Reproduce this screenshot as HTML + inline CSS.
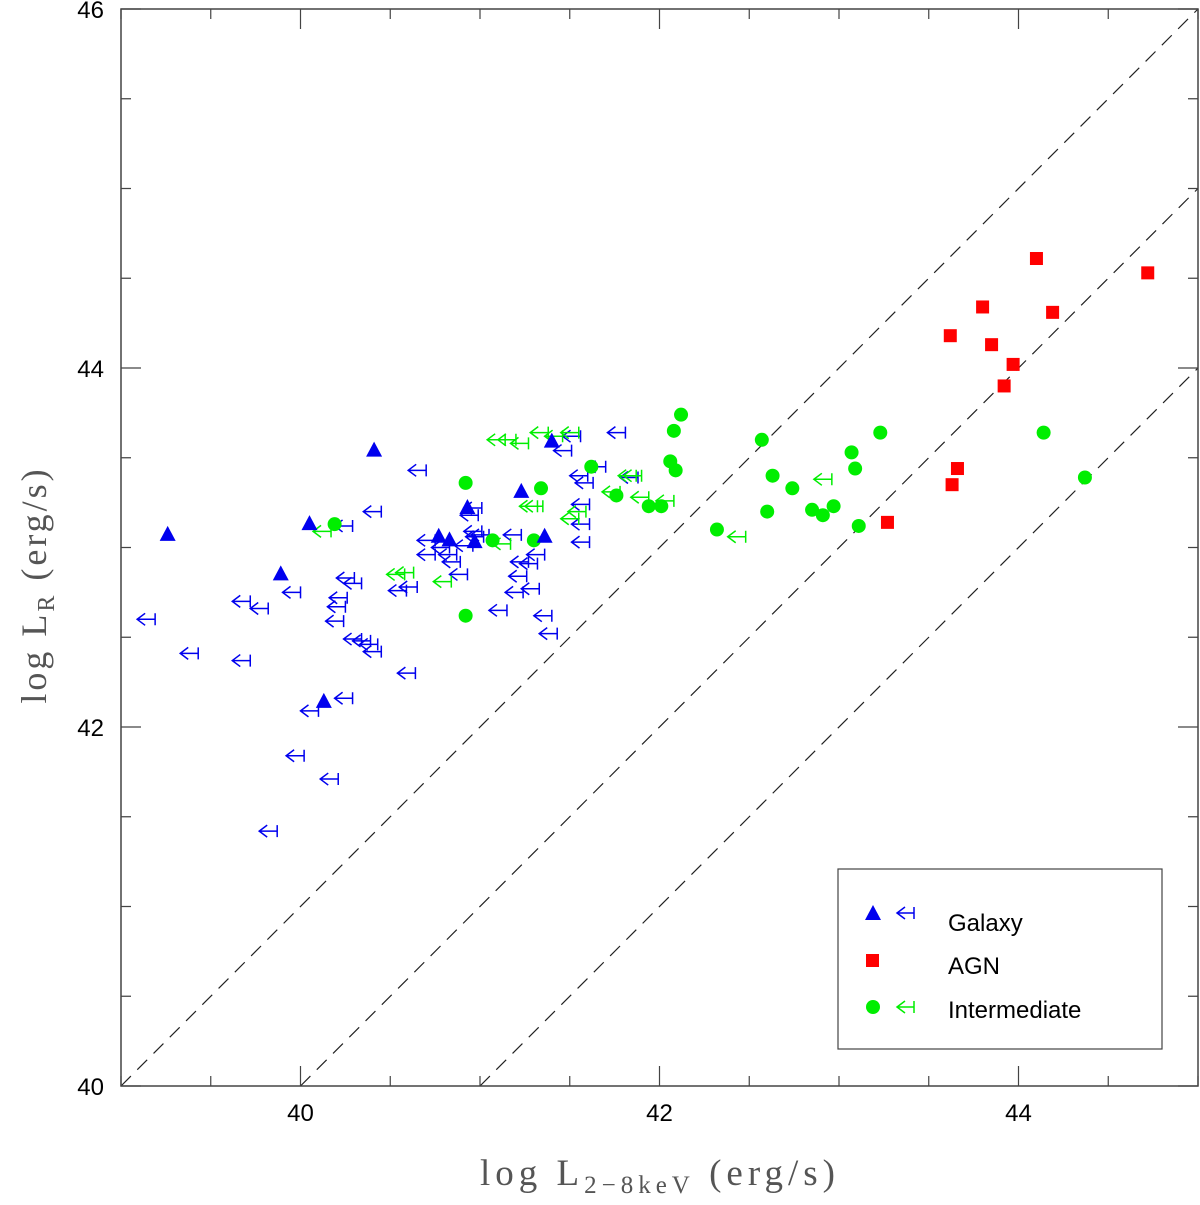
<!DOCTYPE html>
<html><head><meta charset="utf-8"><style>
body{margin:0;background:#fff}
svg text{font-family:"Liberation Sans",sans-serif}
</style></head><body>
<svg id="chart" width="1200" height="1200" xmlns="http://www.w3.org/2000/svg">
<rect width="1200" height="1200" fill="#fff"/>
<g id="grid"></g>
<g id="marks"></g>
<rect x="121" y="9" width="1077" height="1077" fill="none" stroke="#444" stroke-width="1.5"/>
<text transform="translate(46,585) rotate(-90)" text-anchor="middle" font-size="36" fill="#555" letter-spacing="3" style="font-family:'Liberation Serif',serif">log L<tspan font-size="24" dy="8">R</tspan><tspan dy="-8"> (erg/s)</tspan></text>
<text x="660" y="1185" text-anchor="middle" font-size="37" fill="#555" letter-spacing="5" style="font-family:'Liberation Serif',serif">log L<tspan font-size="25" dy="8">2−8keV</tspan><tspan dy="-8"> (erg/s)</tspan></text>
<g>
<rect x="838" y="869" width="324" height="180" fill="#fff" stroke="#444" stroke-width="1.2"/>
<polygon points="873,905 865,920 881,920" fill="#0000ee"/>
<path d="M905,907 L897,913 L905,919 M897,913 L914,913 M914,907 L914,919" stroke="#0000ee" stroke-width="1.5" fill="none"/>
<text x="948" y="931" font-size="24">Galaxy</text>
<rect x="866" y="954" width="13" height="13" fill="#ff0000"/>
<text x="948" y="974" font-size="24">AGN</text>
<circle cx="873" cy="1007" r="7" fill="#00ee00"/>
<path d="M905,1001 L897,1007 L905,1013 M897,1007 L914,1007 M914,1001 L914,1013" stroke="#00ee00" stroke-width="1.5" fill="none"/>
<text x="948" y="1018" font-size="24">Intermediate</text>
</g>
</svg>
<script>
const xTicks=[40,42,44];
const yTicks=[40,42,44,46];
const galaxyX=[39.26,40.05,39.89,40.41,40.13,40.77,40.83,40.93,40.97,41.23,41.40,41.36];
const galaxyY=[43.07,43.13,42.85,43.54,42.14,43.06,43.04,43.22,43.03,43.31,43.59,43.06];
const agnX=[43.62,43.80,43.85,44.10,44.19,44.72,43.97,43.92,43.63,43.66,43.27];
const agnY=[44.18,44.34,44.13,44.61,44.31,44.53,44.02,43.90,43.35,43.44,43.14];
const interX=[40.19,40.92,40.92,41.07,41.30,41.34,41.62,41.76,41.94,42.01,42.06,42.09,42.08,42.12,42.32,42.57,42.63,42.60,42.74,42.85,42.91,42.97,43.07,43.09,43.11,43.23,44.14,44.37];
const interY=[43.13,43.36,42.62,43.04,43.04,43.33,43.45,43.29,43.23,43.23,43.48,43.43,43.65,43.74,43.10,43.60,43.40,43.20,43.33,43.21,43.18,43.23,43.53,43.44,43.12,43.64,43.64,43.39];
const galLimX=[39.14,39.38,39.67,39.77,39.67,39.95,39.97,39.82,40.05,40.24,40.16,40.29,40.21,40.20,40.19,40.25,40.29,40.34,40.38,40.40,40.59,40.54,40.60,40.40,40.65,40.24,40.70,40.70,40.78,40.82,40.84,40.88,40.91,40.94,40.97,40.96,40.96,41.00,41.10,41.18,41.21,41.22,41.19,41.27,41.28,41.31,41.35,41.38,41.46,41.51,41.55,41.56,41.56,41.56,41.58,41.65,41.76,41.83];
const galLimY=[42.60,42.41,42.70,42.66,42.37,42.75,41.84,41.42,42.09,42.16,41.71,42.80,42.72,42.67,42.59,42.83,42.49,42.48,42.46,42.42,42.30,42.76,42.78,43.20,43.43,43.12,43.04,42.96,43.00,42.96,42.92,42.85,43.01,43.18,43.06,43.22,43.09,43.07,42.65,43.07,42.84,42.92,42.75,42.91,42.77,42.96,42.62,42.52,43.54,43.62,43.40,43.24,43.13,43.03,43.36,43.45,43.64,43.39];
const intLimX=[40.12,41.50,41.33,41.41,41.09,41.15,41.22,41.27,41.30,41.12,41.50,41.54,40.53,40.58,40.79,41.73,41.82,41.85,42.03,41.89,42.91,42.43];
const intLimY=[43.09,43.64,43.64,43.62,43.60,43.60,43.58,43.23,43.23,43.02,43.16,43.20,42.85,42.86,42.81,43.31,43.40,43.40,43.26,43.28,43.38,43.06];
const lineOffsets=[1,0,-1];

const X0=121,X1=1198,Y0=1086,Y1=9,XMIN=39,XMAX=45,YMIN=40,YMAX=46;
const sx=v=>X0+(v-XMIN)/(XMAX-XMIN)*(X1-X0);
const sy=v=>Y0-(v-YMIN)/(YMAX-YMIN)*(Y0-Y1);
const NS='http://www.w3.org/2000/svg';
const grid=document.getElementById('grid'),marks=document.getElementById('marks');
function mk(tag,attrs,parent){const e=document.createElementNS(NS,tag);for(const k in attrs)e.setAttribute(k,attrs[k]);parent.appendChild(e);return e;}

for(let v=39;v<=45.001;v+=0.5){
  const major=Math.abs(v-Math.round(v/2)*2)<1e-6;const L=major?20:10;const x=sx(v);
  const t=mk('path',{d:`M${x},${Y0} V${Y0-L} M${x},${Y1} V${Y1+L}`,stroke:'#444','stroke-width':1.2},grid);
  
  
}
for(let v=40;v<=46.001;v+=0.5){
  const major=Math.abs(v-Math.round(v/2)*2)<1e-6;const L=major?20:10;const y=sy(v);
  const t=mk('path',{d:`M${X0},${y} H${X0+L} M${X1},${y} H${X1-L}`,stroke:'#444','stroke-width':1.2},grid);
  
  
}
xTicks.forEach(v=>{const t=mk('text',{x:sx(v),y:1121,'text-anchor':'middle','font-size':24},grid);t.textContent=v;
  
  });
yTicks.forEach(v=>{const t=mk('text',{x:104,y:sy(v)+9,'text-anchor':'end','font-size':24},grid);t.textContent=v;
  
  });

lineOffsets.forEach(o=>{
  let xa=Math.max(XMIN,YMIN-o),xb=Math.min(XMAX,YMAX-o);
  const l=mk('line',{x1:sx(xa),y1:sy(xa+o),x2:sx(xb),y2:sy(xb+o),stroke:'#222','stroke-width':1.2,'stroke-dasharray':'14,9'},grid);
  
  
});

function arrow(x,y,col){
  const cx=sx(x),cy=sy(y);
  return mk('path',{d:`M${cx-1},${cy-6} L${cx-9},${cy} L${cx-1},${cy+6} M${cx-9},${cy} L${cx+9},${cy} M${cx+9},${cy-6} L${cx+9},${cy+6}`,stroke:col,'stroke-width':1.5,fill:'none'},marks);
}
galLimX.forEach((x,i)=>{const p=arrow(x,galLimY[i],'#0000ee');
  
  });
intLimX.forEach((x,i)=>{const p=arrow(x,intLimY[i],'#00ee00');
  
  });
interX.forEach((x,i)=>{const c=mk('circle',{cx:sx(x),cy:sy(interY[i]),r:7,fill:'#00ee00'},marks);
  
  });
galaxyX.forEach((x,i)=>{const cx=sx(x),cy=sy(galaxyY[i]);
  const t=mk('polygon',{points:`${cx},${cy-9} ${cx-8},${cy+6} ${cx+8},${cy+6}`,fill:'#0000ee'},marks);
  
  });
agnX.forEach((x,i)=>{const r=mk('rect',{x:sx(x)-6.5,y:sy(agnY[i])-6.5,width:13,height:13,fill:'#ff0000'},marks);
  
  });
</script>
</body></html>
